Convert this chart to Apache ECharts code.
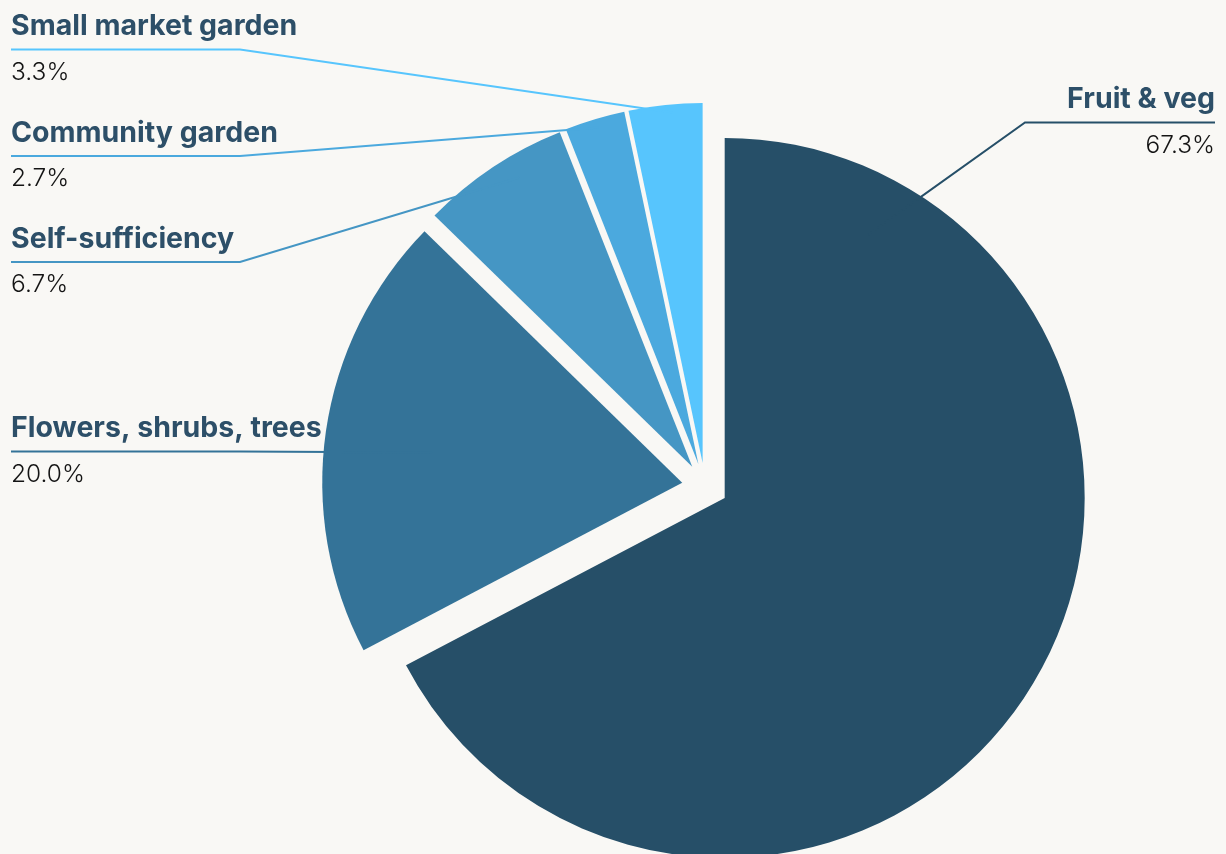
<!DOCTYPE html>
<html>
<head>
<meta charset="utf-8">
<script src="https://cdn.jsdelivr.net/npm/echarts@6/dist/echarts.min.js"></script>
<style>
  html, body { margin: 0; padding: 0; background: #f9f8f5; }
  #chart { width: 1226px; height: 854px; }
</style>
</head>
<body>
<div id="chart"></div>
<script>
// Share of plots by main use
const categories = ['Fruit & veg', 'Flowers, shrubs, trees', 'Self-sufficiency', 'Community garden', 'Small market garden'];
const shares = [67.3, 20.0, 6.7, 2.7, 3.3];
const sliceColors = ['#264f68', '#347398', '#4596c4', '#4ba9de', '#57c5fd'];

// Pie geometry
const pieCenter = [705, 486];
const pieRadius = 360;
const explodeOffset = 23;
const edgeGap = 11;
const chartWidth = 1226;

// Leader lines: which side each label sits on, the height of its underline,
// where the line bends and where it starts inside the slice
const labelSide = ['right', 'left', 'left', 'left', 'left'];
const labelLineY = [122.5, 451.5, 262, 156, 49.5];
const lineBendX = [1025, 240, 240, 240, 240];
const anchorAngle = [33, 277, 329, 343.5, 355];
const anchorRadius = [300, 275, 360, 374, 375];

const fontFamily = 'Inter, "Noto Sans", sans-serif';

const chart = echarts.init(document.getElementById('chart'), null, { renderer: 'canvas' });

const pieBase = {
  type: 'pie',
  center: pieCenter,
  radius: pieRadius,
  startAngle: 90,
  clockwise: true,
  emphasis: { disabled: true }
};

chart.setOption({
  backgroundColor: '#f9f8f5',
  animation: false,
  series: [
    // Exploded slices
    Object.assign({}, pieBase, {
      selectedMode: 'multiple',
      selectedOffset: explodeOffset,
      silent: true,
      label: { show: false },
      labelLine: { show: false },
      data: categories.map((name, i) => ({
        name: name,
        value: shares[i],
        selected: true,
        itemStyle: { color: sliceColors[i] }
      }))
    }),
    // Same pie, unfilled, carrying the labels and their leader lines
    Object.assign({}, pieBase, {
      silent: true,
      z: 3,
      data: categories.map((name, i) => ({
        name: name,
        value: shares[i],
        itemStyle: { color: 'rgba(0,0,0,0)' },
        labelLine: { lineStyle: { color: sliceColors[i] } }
      })),
      label: {
        show: true,
        position: 'outside',
        overflow: 'none',
        formatter: p => '{name|' + p.name + '}\n{value|' + p.value.toFixed(1) + '%}',
        rich: {
          name: { fontFamily: fontFamily, fontSize: 28.5, fontWeight: 700, color: '#2d4f68', lineHeight: 46 },
          value: { fontFamily: fontFamily, fontSize: 24.5, fontWeight: 300, color: '#141414', lineHeight: 46 }
        }
      },
      labelLine: {
        show: true,
        lineStyle: { width: 2 }
      },
      labelLayout: function (p) {
        const i = p.dataIndex;
        const right = labelSide[i] === 'right';
        const a = anchorAngle[i] * Math.PI / 180;
        const ax = pieCenter[0] + anchorRadius[i] * Math.sin(a);
        const ay = pieCenter[1] - anchorRadius[i] * Math.cos(a);
        const edgeX = right ? chartWidth - edgeGap : edgeGap;
        return {
          x: edgeX,
          y: labelLineY[i],
          align: right ? 'right' : 'left',
          verticalAlign: 'middle',
          labelLinePoints: [[ax, ay], [lineBendX[i], labelLineY[i]], [edgeX, labelLineY[i]]]
        };
      }
    })
  ]
});
</script>
</body>
</html>
